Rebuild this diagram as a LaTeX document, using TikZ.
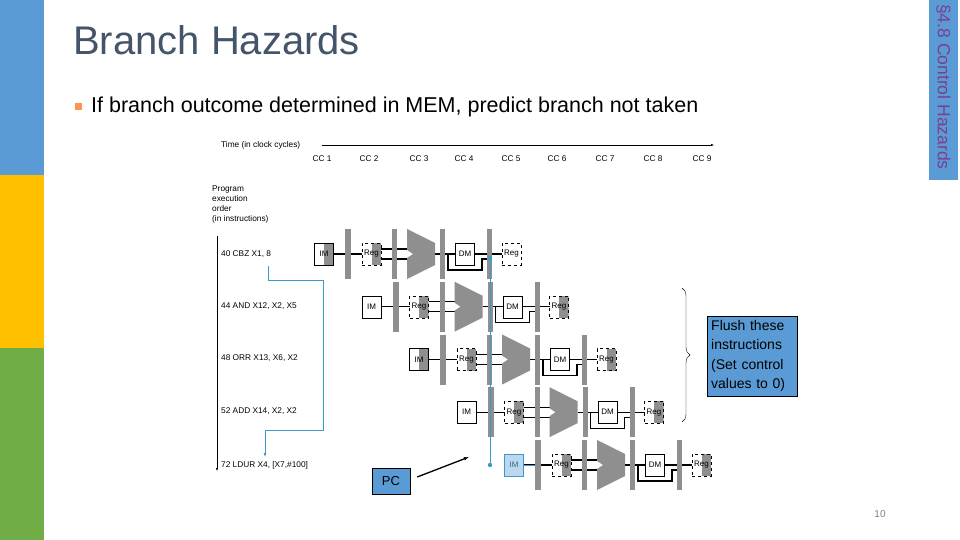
\documentclass[tikz,border=0pt]{standalone}
\usepackage{fontspec}
\setmainfont{Liberation Sans}
\usetikzlibrary{decorations.pathreplacing,arrows.meta}
\definecolor{bargray}{HTML}{8F8F8F}
\definecolor{tabblue}{HTML}{5B9BD5}
\definecolor{ylw}{HTML}{FFC000}
\definecolor{grn}{HTML}{70AD47}
\definecolor{ttl}{HTML}{44546A}
\definecolor{lnblue}{HTML}{3A9BC8}
\definecolor{ltblue}{HTML}{BDD7EE}
\definecolor{purp}{HTML}{7A3F8F}
\tikzset{
 hbox/.style={draw,thin,minimum width=19pt,minimum height=22pt,inner sep=0pt,font=\fontsize{8}{8}\selectfont,
   path picture={\fill[bargray] (path picture bounding box.north) rectangle (path picture bounding box.south east);}},
 wbox/.style={draw,thin,fill=white,minimum width=19pt,minimum height=22pt,inner sep=0pt,font=\fontsize{8}{8}\selectfont},
 regbox/.style={draw,thin,dashed,minimum width=19pt,minimum height=22pt,inner sep=0pt,font=\fontsize{8}{8}\selectfont,
   path picture={\fill[bargray] (path picture bounding box.north) rectangle (path picture bounding box.south east);}},
 small/.style={font=\fontsize{8.3}{10}\selectfont,anchor=west,inner sep=0pt},
 pline/.style={line width=1.2pt},
 bluebox/.style={draw=black,fill=tabblue,inner sep=4pt}
}
\newcommand\prow[3]{%
\begin{scope}[shift={(#1,#2)}]
\draw[pline] (18,0)--(47,0) (66,-5)--(92,-5) (66,5)--(92,5) (120,0)--(140,0) (160,0)--(187,0);
\draw[pline] (133,0)--(133,16)--(167,16)--(167,5)--(172,5);
\fill[bargray] (30,-25) rectangle (36,25);
\fill[bargray] (77,-25) rectangle (82,25);
\fill[bargray] (125,-25) rectangle (130,25);
\fill[bargray] (172,-25) rectangle (177,25);
\fill[bargray] (92,-25)--(120,-11)--(120,11)--(92,25)--(92,4)--(98,0)--(92,-4)--cycle;
\node[hbox] (#3im) at (9,0) {IM};
\node[regbox] (#3rega) at (56.5,0) {Reg};
\node[wbox] (#3dm) at (150,0) {DM};
\node[regbox] (#3regb) at (196.5,0) {Reg};
\end{scope}}
\begin{document}
\begin{tikzpicture}[x=1pt,y=-1pt]
\useasboundingbox (0,0) rectangle (960,540);
\fill[tabblue] (0,0) rectangle (44,175);
\fill[ylw] (0,175) rectangle (44,348);
\fill[grn] (0,348) rectangle (44,540);
\fill[tabblue] (929,0) rectangle (958,180);
\node[rotate=-90,text=purp,font=\fontsize{17.5}{17.5}\selectfont,anchor=west,inner sep=0pt] (tab) at (943.5,4) {§4.8 Control Hazards};
\node[anchor=west,text=ttl,font=\fontsize{40}{40}\selectfont,inner sep=0pt] (title) at (73,40) {Branch Hazards};
\fill[orange!80!red!70] (75,103) rectangle (82,110);
\node[anchor=west,font=\fontsize{21.5}{22}\selectfont,inner sep=0pt] (bul) at (91,107) {If branch outcome determined in MEM, predict branch not taken};
\node[text=gray,font=\fontsize{10}{10}\selectfont] (pg) at (880,514) {10};
\node[small] (time) at (221,145) {Time (in clock cycles)};
\coordinate (ta) at (322,145); \coordinate (tb) at (714,145);
\draw[-{Latex[length=3pt]},thin] (ta)--(tb);
\foreach \x/\n in {322/1,369/2,419/3,464/4,511/5,557/6,605/7,653/8,702/9}
  \node[font=\fontsize{8.3}{8}\selectfont] (cc\n) at (\x,159) {CC \n};
\node[small,anchor=north west,align=left] (peo) at (212,186) {Program\\execution\\order\\(in instructions)};
\coordinate (oa) at (217,236); \coordinate (ob) at (217,471);
\draw[-{Latex[length=3pt]},thin] (oa)--(ob);
\node[small] (i1) at (221,254) {40 CBZ X1, 8};
\node[small] (i2) at (221,306) {44 AND X12, X2, X5};
\node[small] (i3) at (221,358) {48 ORR X13, X6, X2};
\node[small] (i4) at (221,411) {52 ADD X14, X2, X2};
\node[small] (i5) at (221,465) {72 LDUR X4, [X7,\#100]};
\draw[lnblue,thick,-{Latex[length=4pt]}] (268,266)--(268,280)--(323,280)--(323,430)--(265,430)--(265,457);
\prow{315}{254}{ra}
\prow{362.5}{306.7}{rb}
\prow{410}{359.5}{rc}
\prow{457.5}{412.2}{rd}
\prow{505}{465}{re}
\node[wbox,dashed] at (raregb) {Reg};
\node[wbox] at (rbim) {IM};
\node[wbox] at (rdim) {IM};
\draw[lnblue,thick] (reim.east)--(535,465);
\node[draw=lnblue,fill=ltblue,text=lnblue!70!black,minimum width=19pt,minimum height=22pt,inner sep=0pt,font=\fontsize{8}{8}\selectfont] (reimb) at (reim) {IM};
\coordinate (bt) at (490,258);
\coordinate (bb) at (490,465);
\draw[lnblue,thick] (bt)--(bb);
\fill[lnblue] (bt) circle (2.2pt) (bb) circle (2.2pt);
\coordinate (br1) at (682,288); \coordinate (br2) at (682,422);
\draw[decorate,decoration={brace,amplitude=8pt}] (br1)--(br2);
\node[bluebox,anchor=north west,align=left,font=\fontsize{14}{19.5}\selectfont,text width=82pt] (flush) at (707,316) {Flush these\\instructions\\(Set control\\values to 0)};
\node[bluebox,minimum width=38pt,minimum height=26pt,font=\fontsize{13}{13}\selectfont] (pc) at (391,481) {PC};
\coordinate (pcarr) at (469,457);
\draw[line width=1.3pt,-{Latex[length=5pt]}] (pc.east)++(7,-4) -- (pcarr);
\end{tikzpicture}
\end{document}
